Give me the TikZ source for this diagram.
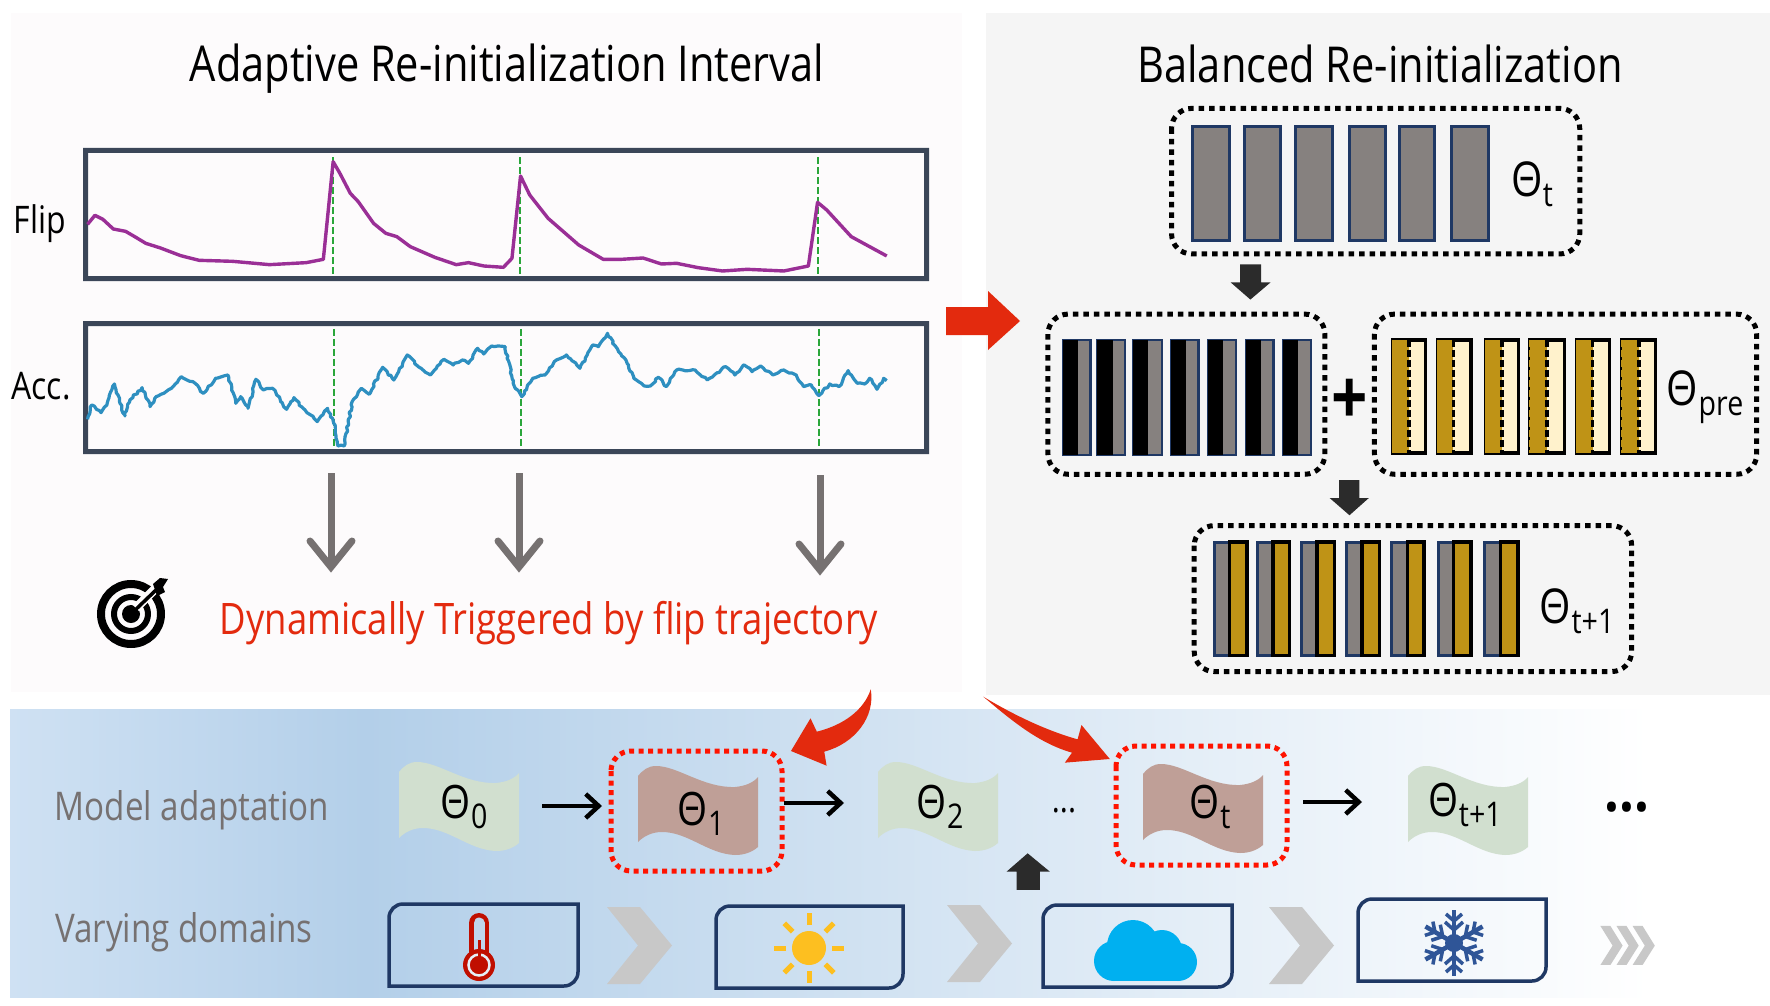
\documentclass[tikz,border=0pt]{standalone}
\usepackage{fontspec}
\setmainfont{Open Sans}[FakeStretch=0.84]
\usetikzlibrary{arrows.meta,calc,decorations.pathmorphing}
\definecolor{boxdark}{HTML}{3B4658}
\definecolor{navy}{HTML}{1F3864}
\definecolor{barg}{HTML}{86817F}
\definecolor{gold}{HTML}{BF9316}
\definecolor{cream}{HTML}{FFF2CC}
\definecolor{sage}{HTML}{D1DFCF}
\definecolor{rose}{HTML}{BF9F97}
\definecolor{redd}{HTML}{E32A0E}
\definecolor{chev}{HTML}{C8C8C8}
\definecolor{dgray}{HTML}{767171}
\definecolor{blockc}{HTML}{2B2B2B}
\definecolor{flipc}{HTML}{9A2F96}
\definecolor{accc}{HTML}{2E8FC0}
\definecolor{grn}{HTML}{2AA63A}
\definecolor{panelc}{HTML}{FDFBFC}
\newcommand{\fs}[1]{\fontsize{#1}{#1}\selectfont}
\newcommand{\thet}[4]{{\fs{#1}Θ\kern0.5pt\raisebox{-#3pt}{\fs{#2}#4}}}
\tikzset{
  zone/.style={shift={(0,130)},xscale=0.6124,yscale=0.3333},
  ztwo/.style={shift={(1030,90)},xscale=0.4719,yscale=0.3831},
  zthree/.style={shift={(0,680)},xscale=0.574,yscale=0.3333},
  zfour/.style={shift={(900,680)},xscale=0.555,yscale=0.3333},
  plotbox/.style={fill=boxdark,even odd rule},
  trig/.style={grn,line width=2pt,dash pattern=on 7pt off 3pt},
  flipline/.style={flipc,line width=3.4pt,line join=round},
  accline/.style={accc,line width=3.2pt,line join=round,decorate,decoration={random steps,segment length=3pt,amplitude=1pt}},
  garrow/.style={dgray,line width=7pt},
  dotbox/.style={black,line width=5pt,dash pattern=on 5.5pt off 5pt,rounded corners=20pt},
  reddot/.style={red!85!orange,line width=5pt,dash pattern=on 5pt off 4.5pt,rounded corners=20pt},
  barnavy/.style={draw=navy,fill=barg,line width=3pt},
  barblack/.style={draw=black,line width=3.5pt},
  blockarrow/.style={fill=blockc},
  flow/.style={black,line width=4.5pt,-{Straight Barb[length=13pt,width=24pt,line width=4.5pt]}},
  domainbox/.style={navy,line width=3.5pt},
  bigarrow/.style={fill=redd},
  lab/.style={font=\fs{38}},
  pics/wave/.style={code={
    \fill[#1] (0,0) .. controls (5,-6) and (10,-10) .. (18,-10) .. controls (40,-10) and (65,12) .. (97,11) .. controls (107,10) and (115,7) .. (120,1) -- (120,71) .. controls (113,77) and (105,79) .. (97,79) .. controls (70,78) and (50,56) .. (24,56) .. controls (14,56) and (6,60) .. (0,66) -- cycle;
  }},
}
\begin{document}
\begin{tikzpicture}[x=1pt,y=-1pt]
\useasboundingbox (0,0) rectangle (1770,1006);
\fill[white] (0,0) rectangle (1770,1006);
% panels
\fill[panelc] (11,13) rectangle (962,692);
\fill[black!4] (986,13) rectangle (1770,695);
\definecolor{ga}{HTML}{CFE1F3}\definecolor{gb}{HTML}{B3CFE9}
\shade[left color=ga,right color=gb] (10,709) rectangle (366,997);
\shade[left color=gb,right color=white] (365,709) rectangle (1650,997);
% titles
\node (title1) at (507,69) {\fs{49.5}Adaptive Re-initialization Interval};
\node (title2) at (1380,64) {\fs{49.5}Balanced Re-initialization};
% plots
\node[lab] (flipl) at (40,224) {Flip};
\node[lab] (accl) at (41,386) {Acc.};
\fill[plotbox] (83,148) rectangle (929,281) (88,153) rectangle (924,276);
\fill[plotbox] (83,321) rectangle (929,454) (88,326) rectangle (924,449);
\begin{scope}[zone]
\foreach \x in {544,849,1335} \draw[trig] (\x,82) -- (\x,436);
\foreach \x in {545,851,1337} \draw[trig] (\x,597) -- (\x,957);
\draw[flipline] plot coordinates {(143,283)(155,256)(168,268)(185,297)(205,304)(220,320)(238,340)(262,354)(295,377)(325,391)(380,394)(440,404)(500,398)(528,388)(544,95)(555,130)(572,190)(585,215)(610,280)(630,310)(648,320)(670,350)(710,382)(745,404)(765,398)(790,408)(822,412)(836,385)(850,138)(865,195)(895,265)(945,345)(985,388)(1015,388)(1050,384)(1080,402)(1105,400)(1140,413)(1180,423)(1220,418)(1280,423)(1320,408)(1335,217)(1350,240)(1390,320)(1420,350)(1448,378)};
\pgfmathsetseed{7}
\draw[accline] (143,868) -- (150,825) -- (165,848) -- (175,820) -- (187,762) -- (196,820) -- (204,858) -- (212,810) -- (232,773) -- (245,830) -- (255,800) -- (280,775) -- (296,740) -- (315,755) -- (332,790) -- (352,745) -- (372,735) -- (385,820) -- (393,800) -- (405,835) -- (418,748) -- (430,780) -- (445,775) -- (468,838) -- (480,803) -- (495,835) -- (518,875) -- (535,835) -- (545,880) -- (552,948) -- (562,948) -- (575,815) -- (590,775) -- (603,793) -- (625,712) -- (643,750) -- (665,675) -- (680,705) -- (703,735) -- (725,688) -- (740,705) -- (755,690) -- (765,700) -- (780,655) -- (790,672) -- (803,648) -- (825,650) -- (838,760) -- (852,800) -- (870,745) -- (890,735) -- (905,695) -- (925,675) -- (947,715) -- (968,645) -- (977,650) -- (992,610) -- (1010,665) -- (1022,690) -- (1035,745) -- (1052,768) -- (1062,768) -- (1075,742) -- (1088,770) -- (1105,720) -- (1135,720) -- (1155,750) -- (1185,710) -- (1200,735) -- (1215,705) -- (1228,725) -- (1242,708) -- (1262,735) -- (1280,720) -- (1300,735) -- (1312,770) -- (1325,765) -- (1337,797) -- (1355,762) -- (1370,770) -- (1385,722) -- (1400,760) -- (1412,762) -- (1420,745) -- (1432,778) -- (1443,745) -- (1448,752);
\end{scope}
% gray arrows
\foreach \n/\x/\t/\b in {a/331/473/567,b/519/473/567,c/820/475/570}{
  \coordinate (g\n t) at (\x,\t);
  \coordinate (g\n b) at (\x,\b);
  \draw[garrow] (g\n t) -- (g\n b);
  \draw[garrow,line cap=round,line join=miter] ($(g\n b)+(-21,-26)$) -- (g\n b) -- ($(g\n b)+(21,-26)$);
}
% target
\draw[black,line width=8pt] (131,614) circle (30);
\draw[black,line width=6pt] (131,614) circle (17);
\fill[black] (131,614) circle (9);
\draw[panelc,line width=9pt] (136,608) -- (170,574);
\draw[black,line width=3.5pt] (131,614) -- (156,590);
\fill[black] (153,584) -- (160,578) -- (168,579) -- (163,587) -- (165,592) -- (157,596) -- cycle;
\node (trigtext) at (549,623) {\fs{43.4}\color{redd}Dynamically Triggered by flip trajectory};
% big red arrow
\fill[bigarrow] (946,307) -- (988,307) -- (988,291) -- (1020,321) -- (988,350) -- (988,335) -- (946,335) -- cycle;
% balanced panel
\begin{scope}[ztwo]
\draw[dotbox] (300,48) rectangle (1165,428);
\foreach \a/\b in {345/423,454/531,563/640,678/753,782/858,894/971}
  \draw[barnavy] (\a,95) rectangle (\b,392);
\draw[dotbox] (38,585) rectangle (625,1003);
\foreach \a/\m/\b in {70/102/128,143/175/202,219/250/279,299/330/357,378/409/436,458/489/516,537/568/595}{
  \draw[barnavy,line width=2.2pt] (\a,652) rectangle (\b,953);
  \fill[black] (\a,652) rectangle (\m,953);
}
\draw[dotbox] (730,585) rectangle (1540,1003);
\foreach \a/\m/\b in {768/803/838,863/897/935,965/1000/1035,1060/1096/1133,1158/1192/1228,1254/1290/1325}{
  \draw[draw=black,fill=cream,line width=3.5pt] (\a,652) rectangle (\b,948);
  \fill[gold] (\a,652) rectangle (\m,948);
  \draw[black,line width=3.5pt,dash pattern=on 7pt off 3pt] (\m,652) -- (\m,948);
  \draw[gold,line width=1.5pt,dash pattern=on 7pt off 3pt] (\a,652) -- (\a,948);
}
\draw[dotbox] (348,1137) rectangle (1275,1518);
\foreach \a/\m/\b in {390/423/460,482/515/550,576/608/645,671/703/741,766/800/835,865/897/935,963/997/1034}{
  \draw[barnavy] (\a,1180) rectangle (\m,1476);
  \draw[barblack,fill=gold] (\m,1180) rectangle (\b,1476);
}
\fill[blockarrow] (445,455) -- (490,455) -- (490,502) -- (510,502) -- (467,547) -- (425,502) -- (445,502) -- cycle;
\fill[blockarrow] (655,1018) -- (698,1018) -- (698,1065) -- (718,1065) -- (677,1110) -- (635,1065) -- (655,1065) -- cycle;
\end{scope}
\node (plus) at (1350,402) {\fs{76}\bfseries +};
\node (tht) at (1532,184) {\thet{48}{34}{10}{t}};
\node (thpre) at (1705,397) {\thet{48}{34}{10}{pre}};
\node (thtp) at (1577,611) {\thet{48}{34}{10}{t+1}};
% bottom row
\node[font=\fs{39.5},text=dgray] (modelad) at (192,810) {Model adaptation};
\node[font=\fs{39.5},text=dgray] (varyd) at (184,932) {Varying domains};
\pic at (399,772) {wave=sage};
\pic at (638,776) {wave=rose};
\pic at (878,772) {wave=sage};
\pic at (1143,774) {wave=rose};
\pic at (1408,776) {wave=sage};
\node (th0) at (464,807) {\thet{46}{34}{10}{0}};
\node (th1) at (701,814) {\thet{46}{34}{10}{1}};
\node (th2) at (940,807) {\thet{46}{34}{10}{2}};
\node (tht2) at (1210,807) {\thet{46}{34}{10}{t}};
\node (thtp2) at (1465,805) {\thet{46}{34}{10}{t+1}};
\draw[reddot] (611,751) rectangle (782,871);
\draw[reddot] (1116,746) rectangle (1287,865);
\coordinate (f1a) at (542,806); \coordinate (f1b) at (602,806);
\coordinate (f2a) at (784,803); \coordinate (f2b) at (844,803);
\coordinate (f3a) at (1303,802); \coordinate (f3b) at (1362,802);
\draw[flow] (f1a) -- (f1b);
\draw[flow] (f2a) -- (f2b);
\draw[flow] (f3a) -- (f3b);
\node (dotsa) at (1064,811) {\fs{36}...};
\node (dotsb) at (1627,807) {\fs{62}\bfseries ...};
% red curved arrows
\begin{scope}[zthree]
\fill[bigarrow] (1517,28) .. controls (1505,90) and (1470,135) .. (1423,155) -- (1412,115) -- (1378,213) -- (1440,257) -- (1436,215) .. controls (1490,190) and (1525,110) .. (1517,28) -- cycle;
\end{scope}
\begin{scope}[zfour]
\fill[bigarrow] (150,50) .. controls (200,100) and (260,150) .. (320,178) -- (327,135) -- (378,237) -- (297,248) -- (310,218) .. controls (250,190) and (200,120) .. (150,50) -- cycle;
\fill[blockc] (230,520) -- (270,575) -- (252,575) -- (252,630) -- (210,630) -- (210,575) -- (192,575) -- cycle;
\end{scope}
% domain boxes
\foreach \xa/\ya/\xb/\yb in {389/904/578/986,716/906/903/988,1043/905/1232/987,1358/899/1546/981}{
  \draw[domainbox] (\xa,\yb) [rounded corners=14pt] -- (\xa,\ya) [sharp corners] -- (\xb,\ya) [rounded corners=14pt] -- (\xb,\yb) [sharp corners] -- cycle;
}
% chevrons
\foreach \x/\y in {607/907,947/905,1269/907}
  \fill[chev] (\x,\y) -- (\x+33,\y) -- (\x+65,\y+38.5) -- (\x+33,\y+77) -- (\x,\y+77) -- (\x+31,\y+38.5) -- cycle;
\begin{scope}[zfour]
\foreach \x in {1262,1291,1320}
  \fill[chev] (\x,738) -- (\x+18,738) -- (\x+40,797) -- (\x+18,855) -- (\x,855) -- (\x+22,797) -- cycle;
\end{scope}
% thermometer
\definecolor{therm}{HTML}{C00F00}
\definecolor{thermin}{HTML}{BFD6EC}
\draw[therm,line width=20pt,line cap=round] (479,923) -- (479,960);
\draw[thermin,line width=11pt,line cap=round] (479,923) -- (479,960);
\fill[therm] (479,965) circle (16);
\draw[thermin!40!white,line width=2.5pt] (479,965) circle (10.5);
\draw[therm,line width=3pt] (479,940) -- (479,960);
% sun
\definecolor{sunc}{HTML}{FDBF20}
\fill[sunc] (809,948) circle (17);
\foreach \ang in {0,45,...,315}
  \draw[sunc,line width=5pt] ($(809,948)+(\ang:23)$) -- ($(809,948)+(\ang:35)$);
% cloud
\definecolor{cloudc}{HTML}{00B0F0}
\fill[cloudc] (1114,961) circle (20);
\fill[cloudc] (1133,946) circle (26);
\fill[cloudc] (1162,950) circle (20);
\fill[cloudc] (1178,962) circle (19);
\fill[cloudc] (1112,960) rectangle (1180,981);
% snowflake
\definecolor{snowc}{HTML}{2F5597}
\begin{scope}[shift={(1454,943)}]
\foreach \ang in {90,150,210,270,330,30}{
  \begin{scope}[rotate=\ang]
  \draw[snowc,line width=4.5pt] (0,0) -- (33,0);
  \draw[snowc,line width=3.5pt] (21,-9) -- (13,0) -- (21,9);
  \draw[snowc,line width=3.5pt] (29,-8) -- (22,0) -- (29,8);
  \end{scope}
}
\fill[snowc] (0,0) circle (9);
\end{scope}
\end{tikzpicture}
\end{document}
